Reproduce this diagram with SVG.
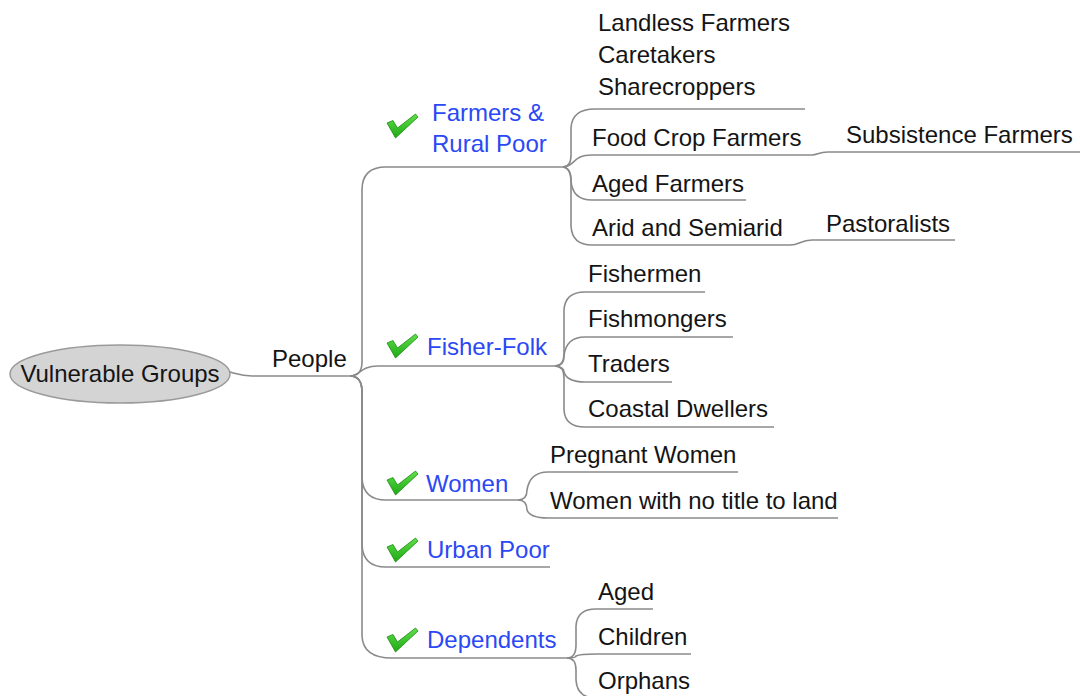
<svg xmlns="http://www.w3.org/2000/svg" width="1080" height="696" viewBox="0 0 1080 696">
<style>
text{font-family:"Liberation Sans",Arial,sans-serif;font-size:24px;fill:#141414}
.blue{fill:#2b48f5}
.ln{fill:none;stroke:#8a8a8a;stroke-width:1.6}
.root{fill:#d4d4d4;stroke:#9a9a9a;stroke-width:1.5}
</style>
<defs>
<linearGradient id="g" x1="0" y1="0" x2="0" y2="1">
<stop offset="0" stop-color="#5fe04a"/><stop offset="1" stop-color="#1fa815"/>
</linearGradient>
<path id="tick" d="M0,10 L6,7.5 L10.5,15 L28.5,1 L31,4 L8.5,25 Z" fill="url(#g)" stroke="#1d8c12" stroke-width="0.8" stroke-linejoin="round"/>
</defs>
<rect width="1080" height="696" fill="#ffffff"/>
<g id="connectors">
<path class="ln" d="M230,372 C238,374 240,376 252,376 H350"/>
<path class="ln" d="M350,376 Q362,376 362,362 V190 Q362,167 386,167 H563"/>
<path class="ln" d="M350,376 C360,376 360,366 378,366 H555"/>
<path class="ln" d="M350,376 Q362,376 362,392 V478 Q363,500 386,500 H518"/>
<path class="ln" d="M350,376 Q362,376 362,392 V545 Q363,567 386,567 H550"/>
<path class="ln" d="M350,376 Q362,376 362,392 V636 Q363,658 392,658 H567"/>
<path class="ln" d="M563,167 Q571,167 571,155 V128 Q572,109 595,109 H805"/>
<path class="ln" d="M563,167 C575,167 572,155 592,155 H812 C818,155 818,152 828,152 H1080"/>
<path class="ln" d="M563,167 Q571,168 571,180 Q572,200 592,200 H746"/>
<path class="ln" d="M563,167 Q571,168 571,182 V226 Q572,245 592,245 H790 C800,245 800,240 812,240 H955"/>
<path class="ln" d="M555,366 Q564,366 564,354 V310 Q565,292 585,292 H705"/>
<path class="ln" d="M555,366 Q564,366 564,356 Q566,337 585,337 H733"/>
<path class="ln" d="M555,366 Q564,367 564,372 Q567,382 585,382 H672"/>
<path class="ln" d="M555,366 Q564,366 564,378 V410 Q565,427 585,427 H774"/>
<path class="ln" d="M518,500 Q527,500 527,490 Q530,472 548,472 H738"/>
<path class="ln" d="M518,500 Q527,500 527,510 Q530,518 548,518 H838"/>
<path class="ln" d="M567,658 Q576,658 576,645 V626 Q577,609 596,609 H653"/>
<path class="ln" d="M567,658 Q576,658 576,656 Q580,654 596,654 H691"/>
<path class="ln" d="M567,658 Q576,658 576,670 V680 Q577,698 596,698 H700"/>
</g>
<g id="vulnerable-groups">
<ellipse class="root" cx="120" cy="374" rx="110" ry="29"/>
<text x="120" y="382" text-anchor="middle">Vulnerable Groups</text>
</g>
<g id="people"><text x="272" y="367">People</text></g>
<g id="farmers-rural-poor">
<use href="#tick" x="387" y="113"/>
<text class="blue" x="432" y="121">Farmers &amp;</text>
<text class="blue" x="432" y="152">Rural Poor</text>
</g>
<g id="landless"><text x="598" y="31">Landless Farmers</text>
<text x="598" y="63">Caretakers</text>
<text x="598" y="95">Sharecroppers</text></g>
<g id="food-crop"><text x="592" y="146">Food Crop Farmers</text></g>
<g id="subsistence"><text x="846" y="143">Subsistence Farmers</text></g>
<g id="aged-farmers"><text x="592" y="192">Aged Farmers</text></g>
<g id="arid"><text x="592" y="236">Arid and Semiarid</text></g>
<g id="pastoralists"><text x="826" y="232">Pastoralists</text></g>
<g id="fisher-folk">
<use href="#tick" x="387" y="333"/>
<text class="blue" x="427" y="355">Fisher-Folk</text>
</g>
<g id="fishermen"><text x="588" y="282">Fishermen</text></g>
<g id="fishmongers"><text x="588" y="327">Fishmongers</text></g>
<g id="traders"><text x="588" y="372">Traders</text></g>
<g id="coastal"><text x="588" y="417">Coastal Dwellers</text></g>
<g id="women">
<use href="#tick" x="387" y="470"/>
<text class="blue" x="426" y="492">Women</text>
</g>
<g id="pregnant"><text x="550" y="463">Pregnant Women</text></g>
<g id="no-title"><text x="550" y="509">Women with no title to land</text></g>
<g id="urban-poor">
<use href="#tick" x="387" y="537"/>
<text class="blue" x="427" y="558">Urban Poor</text>
</g>
<g id="dependents">
<use href="#tick" x="387" y="627"/>
<text class="blue" x="427" y="648">Dependents</text>
</g>
<g id="aged"><text x="598" y="600">Aged</text></g>
<g id="children"><text x="598" y="645">Children</text></g>
<g id="orphans"><text x="598" y="689">Orphans</text></g>
</svg>
